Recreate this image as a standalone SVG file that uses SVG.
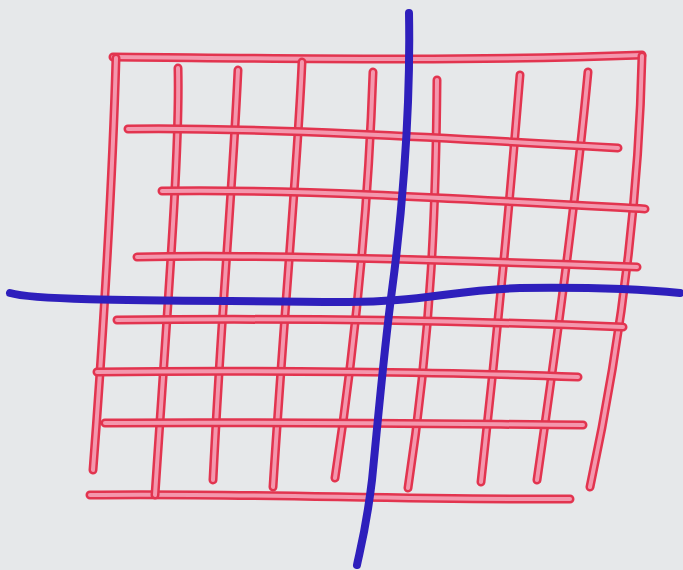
<svg xmlns="http://www.w3.org/2000/svg" xmlns:xlink="http://www.w3.org/1999/xlink" width="683" height="570" viewBox="0 0 683 570">
<style>
.r{fill:none;stroke:#e2344f;stroke-width:9;stroke-linecap:round;stroke-linejoin:round}
.h{fill:none;stroke:#f497ad;stroke-width:4;stroke-linecap:round}
.b{fill:none;stroke:#2e1fbc;stroke-width:8;stroke-linecap:round;stroke-linejoin:round}
</style>
<defs>
<path id="ft" d="M113,57 C250,58 450,62 642,55"/>
<path id="fl" d="M116,58 C112,200 100,380 93,470"/>
<path id="fr" d="M642,56 C640,150 630,300 590,487"/>
<path id="fb" d="M90,495 C250,493 400,500 570,499"/>
<path id="v1" d="M178,68 C180,150 168,300 155,495"/>
<path id="v2" d="M238,70 C232,200 222,300 213,480"/>
<path id="v3" d="M302,62 C298,160 285,300 273,487"/>
<path id="v4" d="M373,72 C370,160 362,300 335,478"/>
<path id="v5" d="M437,80 C436,200 432,330 408,488"/>
<path id="v6" d="M520,75 C510,200 498,330 481,482"/>
<path id="v7" d="M588,72 C578,180 560,320 537,480"/>
<path id="h1" d="M128,129 C250,127 450,138 618,148"/>
<path id="h2" d="M162,191 C300,189 450,198 645,209"/>
<path id="h3" d="M137,257 C250,254 450,260 637,267"/>
<path id="h4" d="M117,320 C300,318 450,320 623,327"/>
<path id="h5" d="M97,372 C250,370 450,372 578,377"/>
<path id="h6" d="M105,423 C300,422 450,424 583,425"/>
</defs>
<rect width="683" height="570" fill="#e6e8ea"/>
<g id="grid-frame">
<use href="#ft" class="r"/><use href="#ft" class="h"/>
<use href="#fl" class="r"/><use href="#fl" class="h"/>
<use href="#fr" class="r"/><use href="#fr" class="h"/>
<use href="#fb" class="r"/><use href="#fb" class="h"/>
</g>
<g id="grid-verticals">
<use href="#v1" class="r"/><use href="#v1" class="h"/>
<use href="#v2" class="r"/><use href="#v2" class="h"/>
<use href="#v3" class="r"/><use href="#v3" class="h"/>
<use href="#v4" class="r"/><use href="#v4" class="h"/>
<use href="#v5" class="r"/><use href="#v5" class="h"/>
<use href="#v6" class="r"/><use href="#v6" class="h"/>
<use href="#v7" class="r"/><use href="#v7" class="h"/>
</g>
<g id="grid-horizontals">
<use href="#h1" class="r"/><use href="#h1" class="h"/>
<use href="#h2" class="r"/><use href="#h2" class="h"/>
<use href="#h3" class="r"/><use href="#h3" class="h"/>
<use href="#h4" class="r"/><use href="#h4" class="h"/>
<use href="#h5" class="r"/><use href="#h5" class="h"/>
<use href="#h6" class="r"/><use href="#h6" class="h"/>
</g>
<g id="axes">
<path class="b" d="M10,293 C40,302 200,300 340,302 C420,303 450,290 520,288 C600,287 650,290 680,293"/>
<path class="b" d="M409,13 C411,120 400,230 392,290 C384,350 378,420 372,480 C366,530 360,550 357,565"/>
</g>
</svg>
